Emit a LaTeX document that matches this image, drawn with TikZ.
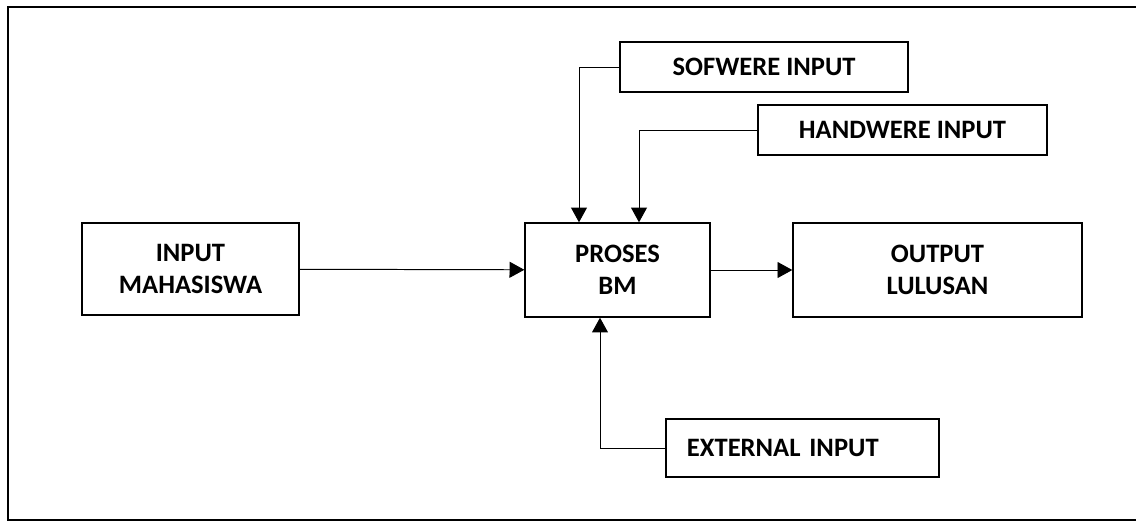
\documentclass[tikz,border=0pt]{standalone}
\usepackage{fontspec}
\setmainfont{Carlito}
\usepackage{tikz}
\usetikzlibrary{arrows.meta}

\begin{document}
\begin{tikzpicture}[x=0.025cm, y=-0.025cm, line width=0.7pt, >={Triangle[length=0.37cm,width=0.4cm]},
  box/.style={draw, line width=0.95pt, align=center, font=\fontsize{18.9}{22.7}\selectfont\bfseries}]
  \useasboundingbox (0,0) rectangle (1136,521);
  \draw [line width=1.4pt] (1136,7) -- (8,7) -- (8,520) -- (1136,520);
  \node [box, minimum width=5.425cm, minimum height=2.3cm]  (inp) at (190.5, 269) {INPUT\\MAHASISWA};
  \node [box, minimum width=4.625cm, minimum height=2.35cm] (proses) at (617.5, 270) {PROSES\\BM};
  \node [box, minimum width=7.225cm, minimum height=2.35cm] (out) at (937.5, 270) {OUTPUT\\LULUSAN};
  \node [box, minimum width=7.2cm, minimum height=1.25cm]   (sof) at (764, 67) {SOFWERE INPUT};
  \node [box, minimum width=7.225cm, minimum height=1.25cm] (hard) at (902.5, 130) {HANDWERE INPUT};
  \node [box, minimum height=1.45cm, inner xsep=0.525cm, text width=5.775cm, align=left] (ext) at (802.5, 448) {EXTERNAL INPUT};
  \draw [->] (inp) -- (proses);
  \draw [->] (proses) -- (out);
  \draw [->] (sof.west) -| ([xshift=-0.9625cm]proses.north);
  \draw [->] (hard.west) -| ([xshift=0.5375cm]proses.north);
  \draw [->] (ext.west) -| ([xshift=-0.4375cm]proses.south);
\end{tikzpicture}
\end{document}
